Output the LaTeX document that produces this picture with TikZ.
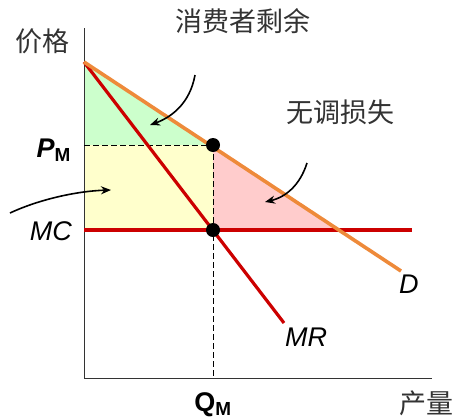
\documentclass[tikz,border=0pt]{standalone}
\usepackage{fontspec}
\setmainfont{Liberation Sans}
\newfontfamily\cjk{Noto Sans CJK SC}
\usetikzlibrary{arrows.meta}
\definecolor{dorange}{RGB}{238,138,58}
\definecolor{mred}{RGB}{204,0,0}
\definecolor{fgreen}{RGB}{204,255,204}
\definecolor{fyellow}{RGB}{255,255,204}
\definecolor{fpink}{RGB}{255,204,204}
\definecolor{txtgray}{RGB}{51,51,51}
\tikzset{
  cjklabel/.style={font=\cjk\fontsize{27}{29}\selectfont, text=txtgray, inner sep=0pt},
  latlabel/.style={font=\fontsize{27}{29}\selectfont\itshape, inner sep=0pt},
  boldlabel/.style={font=\fontsize{27}{29}\selectfont\bfseries, inner sep=0pt},
  axisline/.style={draw=black!80, line width=1pt},
  guide/.style={draw=black, line width=0.9pt, dash pattern=on 6pt off 3pt},
  callout/.style={draw=black, line width=1.6pt, -{Stealth[length=10pt,width=8pt]}},
  dot/.style={circle, fill=black, minimum size=14pt, inner sep=0pt},
}
\begin{document}
\begin{tikzpicture}[x=1pt,y=-1pt]
\useasboundingbox (0,0) rectangle (457,418);
% key points
\coordinate (top) at (84,62);
\coordinate (pmax) at (84,145);
\coordinate (mcax) at (84,230);
\coordinate (pm) at (213,145);
\coordinate (mcq) at (213,230);
\coordinate (dmc) at (341,230);
\coordinate (qm) at (213,378);
\coordinate (origin) at (84,378);
\coordinate (ytop) at (84,28);
\coordinate (xend) at (432,378);
\coordinate (dend) at (401,271);
\coordinate (mrend) at (284,323);
\coordinate (mcend) at (412,230);
% fills
\fill[fgreen] (top) -- (pm) -- (pmax) -- cycle;
\fill[fyellow] (pmax) rectangle (mcq);
\fill[fpink] (pm) -- (dmc) -- (mcq) -- cycle;
% axes
\draw[axisline] (ytop) -- (origin) -- (xend);
% guides
\draw[guide] (pmax) -- (pm);
\draw[guide] (pm) -- (qm);
% curves
\draw[mred, line width=3.2pt] (mcax) -- (mcend);
\draw[mred, line width=3.2pt] (top) -- (mrend);
\draw[dorange, line width=3.6pt] (top) -- (dend);
% dots
\node[dot] (dotpm) at (pm) {};
\node[dot] (dotmc) at (mcq) {};
% labels
\node[cjklabel] (price) at (42,41) {价格};
\node[cjklabel] (qty) at (426,403) {产量};
\node[cjklabel] (cs) at (243,21) {消费者剩余};
\node[cjklabel] (dwl) at (340,112) {无调损失};
\node[boldlabel, anchor=base east] (pmlab) at (71,157) {\itshape P\textsubscript{\upshape\bfseries M}};
\node[latlabel, anchor=base east] (mclab) at (72,240) {MC};
\node[latlabel, anchor=base west] (dlab) at (399,293) {D};
\node[latlabel, anchor=base west] (mrlab) at (285,346) {MR};
\node[boldlabel, anchor=base] (qmlab) at (213,411) {Q\textsubscript{M}};
% callout arrows
\coordinate (a1s) at (195,75);
\coordinate (a1e) at (150,125);
\coordinate (a2s) at (307,163);
\coordinate (a2e) at (265,202);
\coordinate (a3s) at (10,213);
\coordinate (a3e) at (111,190);
\draw[callout] (a1s) .. controls (190,103) and (172,117) .. (a1e);
\draw[callout] (a2s) .. controls (300,185) and (286,197) .. (a2e);
\draw[callout] (a3s) .. controls (40,199) and (78,191) .. (a3e);
\end{tikzpicture}
\end{document}
